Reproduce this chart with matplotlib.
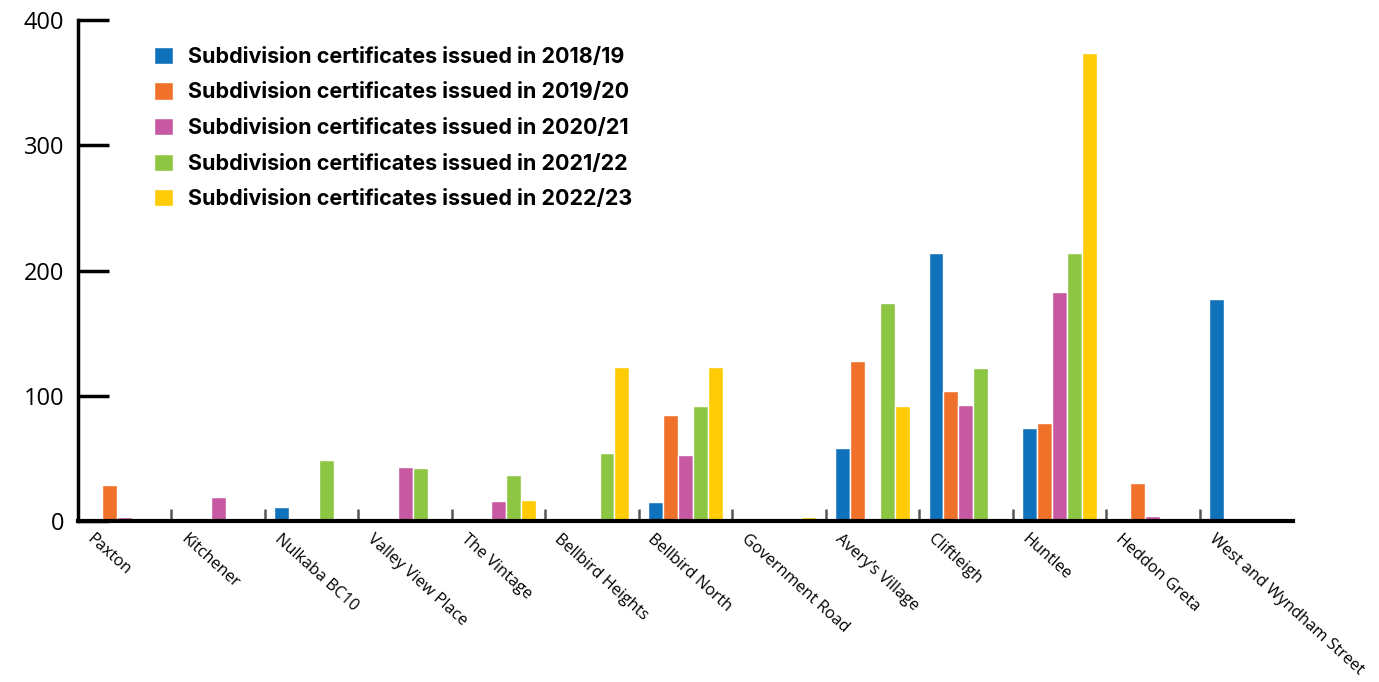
import numpy as np
import matplotlib.pyplot as plt
from matplotlib.transforms import ScaledTranslation

estates = ["Paxton", "Kitchener", "Nulkaba BC10", "Valley View Place", "The Vintage",
           "Bellbird Heights", "Bellbird North", "Government Road", "Avery\u2019s Village",
           "Cliftleigh", "Huntlee", "Heddon Greta", "West and Wyndham Street"]

years = ["2018/19", "2019/20", "2020/21", "2021/22", "2022/23"]

issued_1819 = [0, 0, 11, 0, 0, 0, 15, 0, 58, 214, 74, 0, 177]
issued_1920 = [29, 0, 0, 0, 0, 0, 85, 0, 128, 104, 78, 30, 0]
issued_2021 = [3, 19, 0, 43, 16, 0, 53, 0, 0, 93, 183, 4, 0]
issued_2122 = [0, 0, 49, 42, 37, 54, 92, 0, 174, 122, 214, 0, 0]
issued_2223 = [0, 0, 0, 0, 17, 123, 123, 3, 92, 0, 374, 0, 0]

colors = ["#1172bc", "#f0712a", "#c659a1", "#8dc642", "#ffcc05"]

series = [issued_1819, issued_1920, issued_2021, issued_2122, issued_2223]

fig = plt.figure(figsize=(13.79, 6.82), dpi=100)
ax = fig.add_axes([78 / 1379, 161 / 682, (1293 - 78) / 1379, (521 - 20) / 682])

x = np.arange(len(estates))
w = 0.16
for j, (vals, col, yr) in enumerate(zip(series, colors, years)):
    ax.bar(x + (j - 2) * w, vals, width=w, color=col, edgecolor="white", linewidth=1,
           label="Subdivision certificates issued in " + yr)

ax.set_xlim(-0.5, len(estates) - 0.5)
ax.set_ylim(0, 400)

for s in ["top", "right"]:
    ax.spines[s].set_visible(False)
ax.spines["left"].set_linewidth(2.5)
ax.spines["bottom"].set_linewidth(3)

ax.set_yticks([0, 100, 200, 300, 400])
ax.tick_params(axis="y", direction="in", length=22, width=2.5, labelsize=17, pad=10)
for lbl in ax.get_yticklabels():
    lbl.set_family("Open Sans")

# small separators between estates
ax.set_xticks(x[:-1] + 0.5, minor=True)
ax.tick_params(axis="x", which="minor", direction="in", length=9, width=1.8, color="#555555")
ax.set_xticks(x)
ax.set_xticklabels(estates, rotation=-42, ha="left", va="top", rotation_mode="anchor",
                   fontsize=11.7, family="Open Sans")
ax.tick_params(axis="x", which="major", length=0, pad=7)
offset = ScaledTranslation(-0.3, 0, fig.dpi_scale_trans)
for lbl in ax.get_xticklabels():
    lbl.set_transform(lbl.get_transform() + offset)

leg = ax.legend(loc="upper left", bbox_to_anchor=(0.047, 0.985), frameon=False,
                prop={"family": "Inter", "weight": "bold", "size": 15.5},
                handlelength=0.85, handleheight=0.85, handletextpad=0.7, labelspacing=0.72)

fig.savefig("out.png", dpi=100)
